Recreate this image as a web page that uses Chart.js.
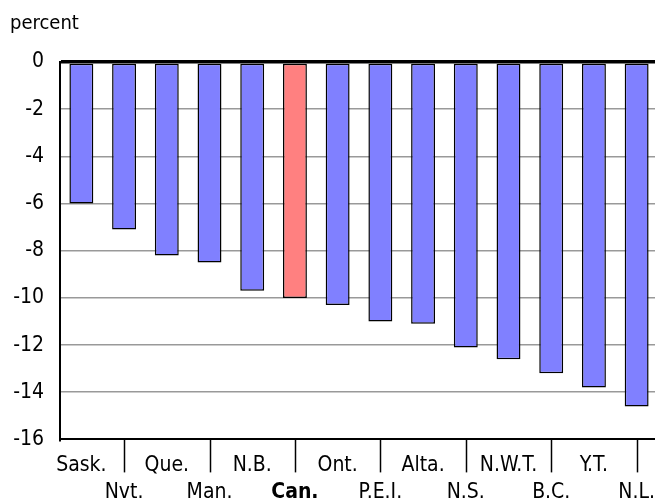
<!DOCTYPE html>
<html>
<head>
<meta charset="utf-8">
<script src="https://cdn.jsdelivr.net/npm/chart.js@4"></script>
<style>
  html, body { margin: 0; padding: 0; background: #fff; }
  body { width: 655px; height: 500px; overflow: hidden; }
  #wrap { width: 660px; height: 513px; }
</style>
</head>
<body>
<div id="wrap"><canvas id="chart"></canvas></div>
<script>
// provinces / territories, sorted by change
const categories = ["Sask.", "Nvt.", "Que.", "Man.", "N.B.", "Can.", "Ont.", "P.E.I.", "Alta.", "N.S.", "N.W.T.", "B.C.", "Y.T.", "N.L."];
const values = [-6.0, -7.1, -8.2, -8.5, -9.7, -10.0, -10.3, -11.0, -11.1, -12.1, -12.6, -13.2, -13.8, -14.6];
const yTicks = [0, -2, -4, -6, -8, -10, -12, -14, -16];

const FONT = "'Liberation Sans Narrow', 'DejaVu Sans Condensed', sans-serif";

// alternate labels on two rows like the original
const labels = categories.map((c, i) => i % 2 === 0 ? [c, ""] : ["", c]);
const colors = categories.map(c => c === "Can." ? "#ff8080" : "#8080ff");

// short vertical marks below the axis, under every second category
const tickMarks = {
    id: "tickMarks",
    afterDraw(chart) {
        const ctx = chart.ctx;
        const x = chart.scales.x;
        const bottom = chart.chartArea.bottom;
        ctx.save();
        ctx.strokeStyle = "#000";
        ctx.lineWidth = 1.5;
        categories.forEach((c, i) => {
            if (i % 2 === 1) {
                const px = Math.round(x.getPixelForValue(i)) + 0.5;
                ctx.beginPath();
                ctx.moveTo(px, bottom);
                ctx.lineTo(px, bottom + 33);
                ctx.stroke();
            }
        });
        ctx.restore();
    }
};

new Chart(document.getElementById("chart"), {
    type: "bar",
    data: {
        labels: labels,
        datasets: [{
            data: values,
            backgroundColor: colors,
            borderColor: "#000",
            borderWidth: 1.5,
            borderSkipped: false,
            barPercentage: 0.56,
            categoryPercentage: 1
        }]
    },
    options: {
        responsive: true,
        maintainAspectRatio: false,
        animation: false,
        layout: { padding: { left: 10, right: 2, top: 0, bottom: 3 } },
        plugins: {
            legend: { display: false },
            tooltip: { enabled: false },
            title: {
                display: true,
                text: "percent",
                align: "start",
                color: "#000",
                font: { family: FONT, size: 20, weight: "normal" },
                padding: { top: 12, bottom: 26 }
            }
        },
        scales: {
            x: {
                grid: { display: false },
                border: { display: true, color: "#000", width: 2 },
                ticks: {
                    color: "#000",
                    autoSkip: false,
                    maxRotation: 0,
                    padding: 4,
                    font: ctx => ({
                        family: FONT,
                        size: 21,
                        lineHeight: 1.3,
                        weight: categories[ctx.index] === "Can." ? "bold" : "normal"
                    })
                }
            },
            y: {
                min: -16,
                max: 0,
                afterFit: s => { s.width = 50; },
                afterBuildTicks: s => { s.ticks = yTicks.map(v => ({ value: v })); },
                grid: {
                    drawTicks: false,
                    color: ctx => (ctx.tick && (ctx.tick.value === 0 || ctx.tick.value === -16)) ? "#000" : "#999",
                    lineWidth: ctx => (ctx.tick && ctx.tick.value === 0) ? 3.5 : (ctx.tick && ctx.tick.value === -16 ? 2 : 1.5)
                },
                border: { display: true, color: "#000", width: 2 },
                ticks: {
                    color: "#000",
                    padding: 16,
                    font: { family: FONT, size: 21 }
                }
            }
        }
    },
    plugins: [tickMarks]
});
</script>
</body>
</html>
